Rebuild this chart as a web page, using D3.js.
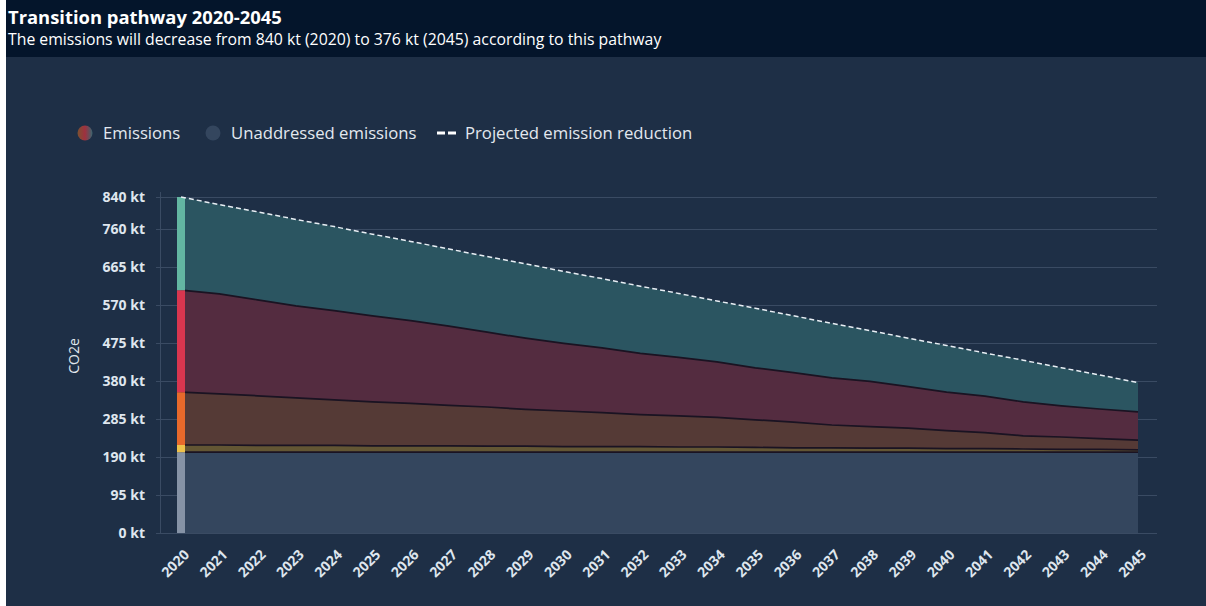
<!DOCTYPE html>
<meta charset="utf-8">
<style>
body { margin: 0; background: #1e2f46; }
svg { display: block; font-family: "Open Sans", Roboto, sans-serif; }
.title { font-size: 18.4px; font-weight: 700; fill: #fff; }
.subtitle { font-size: 15.8px; fill: #fff; }
.legend text { font-size: 16.7px; fill: #e3e8ef; }
.axis text { font-size: 14px; font-weight: 700; fill: #dfe6ee; font-family: "Open Sans", sans-serif; }
.grid line { stroke: #3a4b63; stroke-width: 1; }
.edge { fill: none; stroke: #1a1322; stroke-width: 1.7; }
</style>
<svg id="chart" width="1206" height="606"></svg>
<script src="https://d3js.org/d3.v7.min.js"></script>
<script>

// years on the x axis
var years = [2020, 2021, 2022, 2023, 2024, 2025, 2026, 2027, 2028, 2029, 2030, 2031, 2032,
             2033, 2034, 2035, 2036, 2037, 2038, 2039, 2040, 2041, 2042, 2043, 2044, 2045];

// stacked layers, kt, bottom to top
var unaddressed = [202, 202, 202, 202, 202, 202, 202, 202, 202, 202, 202, 202, 202,
                   202, 202, 202, 202, 202, 202, 202, 202, 202, 202, 202, 202, 202];
var layerYellow = [18, 18, 17, 17, 17, 16, 16, 16, 15, 15, 14, 14, 14,
                   13, 13, 12, 11, 11, 10, 10, 9, 9, 8, 7, 7, 6];
var layerOrange = [132, 128, 124, 119, 114, 110, 106, 101, 98, 92, 89, 85, 80,
                   78, 74, 69, 64, 57, 54, 50, 45, 40, 33, 31, 27, 24];
var layerRed = [255, 250, 240, 230, 223, 215, 207, 198, 187, 178, 169, 162, 153,
                146, 139, 130, 124, 118, 113, 104, 96, 91, 85, 78, 74, 71];
var layerTeal = [233, 223, 220, 216, 210, 204, 198, 193, 189, 186, 180, 173, 168,
                 160, 152, 149, 142, 136, 127, 121, 117, 108, 104, 95, 85, 73];

// projected emission reduction (dashed), kt
var projected = [840, 821, 803, 784, 766, 747, 729, 710, 691, 673, 654, 636, 617,
                 599, 580, 562, 543, 524, 506, 487, 469, 450, 432, 413, 395, 376];

var yTicks = [0, 95, 190, 285, 380, 475, 570, 665, 760, 840];

var keys = ["unaddressed", "yellow", "orange", "red", "teal"];
var fills = { unaddressed: "#34465e", yellow: "#635634", orange: "#553a36", red: "#542c40", teal: "#2b5561" };
var strip = { unaddressed: "#8693a6", yellow: "#eec14a", orange: "#e8692b", red: "#d8364f", teal: "#63b6a2" };

var rows = years.map(function(y, i) {
  return { year: y, unaddressed: unaddressed[i], yellow: layerYellow[i], orange: layerOrange[i],
           red: layerRed[i], teal: layerTeal[i], projected: projected[i] };
});

var svg = d3.select("#chart");

// header
svg.append("rect").attr("x", 0).attr("y", 0).attr("width", 1206).attr("height", 57).attr("fill", "#04152b");
svg.append("rect").attr("x", 0).attr("y", 0).attr("width", 6).attr("height", 606).attr("fill", "#fff");
svg.append("text").attr("class", "title").attr("x", 8).attr("y", 24).text("Transition pathway 2020-2045");
svg.append("text").attr("class", "subtitle").attr("x", 8).attr("y", 45)
    .text("The emissions will decrease from 840 kt (2020) to 376 kt (2045) according to this pathway");

var x = d3.scaleLinear().domain([2020, 2045]).range([181, 1138]);
var y = d3.scaleLinear().domain([0, 840]).range([533, 197]);

// grid
var grid = svg.append("g").attr("class", "grid");
grid.selectAll("line").data(yTicks).enter().append("line")
    .attr("x1", 156).attr("x2", 1157)
    .attr("y1", function(d) { return Math.round(y(d)) + 0.5; })
    .attr("y2", function(d) { return Math.round(y(d)) + 0.5; });
grid.append("line").attr("x1", 160.5).attr("x2", 160.5).attr("y1", 192).attr("y2", 533);

// y axis
var yAxis = svg.append("g").attr("class", "axis")
    .attr("transform", "translate(145,0)")
    .call(d3.axisLeft(y).tickValues(yTicks).tickSize(0).tickPadding(0)
      .tickFormat(function(d) { return d + " kt"; }));
yAxis.select(".domain").remove();

svg.append("text").attr("transform", "translate(79,356) rotate(-90)")
    .attr("text-anchor", "middle").attr("fill", "#e3e8ef").style("font-size", "14px").text("CO2e");

// stacked areas
var series = d3.stack().keys(keys)(rows);

var area = d3.area()
    .x(function(d) { return x(d.data.year); })
    .y0(function(d) { return y(d[0]); })
    .y1(function(d) { return y(d[1]); });

svg.append("g").selectAll("path").data(series).enter().append("path")
    .attr("fill", function(d) { return fills[d.key]; })
    .attr("d", area);

var edge = d3.line()
    .x(function(d) { return x(d.data.year); })
    .y(function(d) { return y(d[1]); });

svg.append("g").selectAll("path").data(series.slice(0, 4)).enter().append("path")
    .attr("class", "edge")
    .attr("d", edge);

// highlighted first year
svg.append("g").selectAll("rect").data(series).enter().append("rect")
    .attr("x", x(2020) - 4).attr("width", 8)
    .attr("y", function(d) { return y(d[0][1]); })
    .attr("height", function(d) { return y(d[0][0]) - y(d[0][1]); })
    .attr("fill", function(d) { return strip[d.key]; });

// projected line
svg.append("path").datum(rows)
    .attr("fill", "none").attr("stroke", "#e8eef4").attr("stroke-width", 1.5)
    .attr("stroke-dasharray", "5,3")
    .attr("d", d3.line().x(function(d) { return x(d.year); }).y(function(d) { return y(d.projected); }));

// x axis
var xAxis = svg.append("g").attr("class", "axis")
    .attr("transform", "translate(0,533)")
    .call(d3.axisBottom(x).tickValues(years).tickSize(0).tickFormat(d3.format("d")));
xAxis.select(".domain").remove();
xAxis.selectAll("text")
    .attr("text-anchor", "end")
    .attr("dy", "0.35em")
    .attr("transform", "translate(3,17) rotate(-45)");

// legend
var defs = svg.append("defs");
var grad = defs.append("linearGradient").attr("id", "emGrad");
grad.append("stop").attr("offset", "0%").attr("stop-color", "#7a5230");
grad.append("stop").attr("offset", "50%").attr("stop-color", "#a0303f");
grad.append("stop").attr("offset", "100%").attr("stop-color", "#3b6670");

var legend = svg.append("g").attr("class", "legend");
legend.append("circle").attr("cx", 85).attr("cy", 133).attr("r", 7.5).attr("fill", "url(#emGrad)");
legend.append("text").attr("x", 103).attr("y", 139).text("Emissions");
legend.append("circle").attr("cx", 213).attr("cy", 133).attr("r", 7.5).attr("fill", "#34465e");
legend.append("text").attr("x", 231).attr("y", 139).text("Unaddressed emissions");
legend.append("line").attr("x1", 437).attr("x2", 456).attr("y1", 133).attr("y2", 133)
    .attr("stroke", "#fff").attr("stroke-width", 3).attr("stroke-dasharray", "8,3");
legend.append("text").attr("x", 465).attr("y", 139).text("Projected emission reduction");

</script>
